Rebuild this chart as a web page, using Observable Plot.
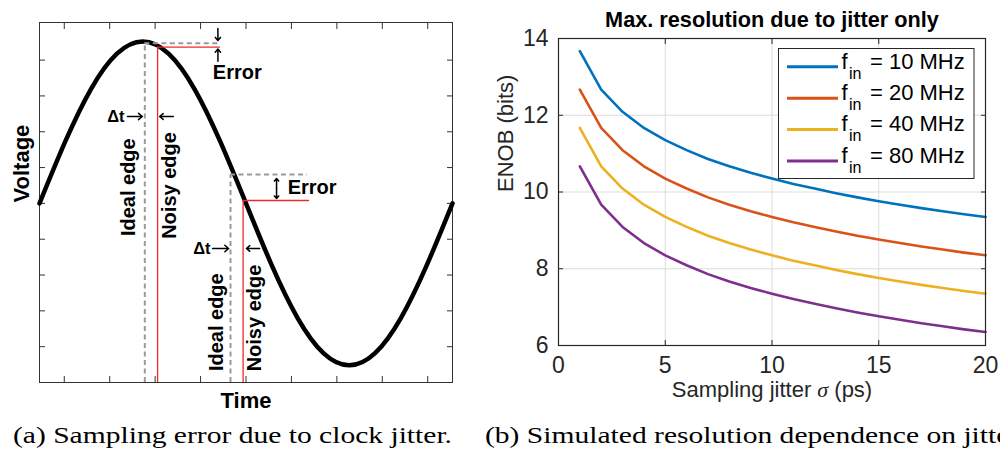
<!DOCTYPE html>
<html>
<head>
<meta charset="utf-8">
<script src="https://cdn.jsdelivr.net/npm/d3@7"></script>
<script src="https://cdn.jsdelivr.net/npm/@observablehq/plot@0.6"></script>
<style>
  body { margin: 0; background: #fff; }
  #wrap { position: relative; width: 1000px; height: 451px; overflow: hidden; background: #fff; }
  #wrap > svg { position: absolute; }
</style>
</head>
<body>
<div id="wrap"></div>
<script>
// ================= Panel (a): schematic =================
// one period of the input sine (t = fraction of period, v = voltage in tick units)
const sineT = [0, 0.0625, 0.125, 0.1875, 0.25, 0.3125, 0.375, 0.4375, 0.5, 0.5625, 0.625, 0.6875, 0.75, 0.8125, 0.875, 0.9375, 1];
const sineV = [0, 1.73, 3.20, 4.18, 4.52, 4.18, 3.20, 1.73, 0, -1.73, -3.20, -4.18, -4.52, -4.18, -3.20, -1.73, 0];
const timeTicks = [0.06, 0.17, 0.28, 0.39, 0.50, 0.61, 0.72, 0.83, 0.94];
const voltTicks = [-4, -3, -2, -1, 0, 1, 2, 3, 4];
// sampling edges: t of edge, sampled voltage, end of the horizontal level line
const idealEdges = [{t: 0.255, v: 4.47, tEnd: 0.438}, {t: 0.4625, v: 0.807, tEnd: 0.649}];
const noisyEdges = [{t: 0.286, v: 4.36, tEnd: 0.438}, {t: 0.493, v: 0.081, tEnd: 0.654}];
const dtArrows = [
  {t1: 0.213, t2: 0.249, v: 2.426}, {t1: 0.324, t2: 0.291, v: 2.426},
  {t1: 0.419, t2: 0.458, v: -1.259}, {t1: 0.533, t2: 0.501, v: -1.259}
];
const errArrows = [
  {t: 0.432, v1: 4.883, v2: 4.548}, {t: 0.432, v1: 3.965, v2: 4.31},
  {t: 0.574, v1: 0.416, v2: 0.695}, {t: 0.574, v1: 0.416, v2: 0.137}
];
const edgeLabels = [
  {t: 0.216, v: 0.452, label: "Ideal edge"},
  {t: 0.315, v: 0.50, label: "Noisy edge"},
  {t: 0.430, v: -3.317, label: "Ideal edge"},
  {t: 0.5206, v: -3.2, label: "Noisy edge"}
];
const errLabels = [{t: 0.479, v: 3.64, label: "Error"}, {t: 0.660, v: 0.444, label: "Error"}];
const dtLabels = [{t: 0.185, v: 2.426, label: "Δt"}, {t: 0.393, v: -1.259, label: "Δt"}];

// ================= Panel (b): ENOB vs jitter =================
const jitterPs = [1,2,3,4,5,6,7,8,9,10,11,12,13,14,15,16,17,18,19,20];
const freqsMHz = [10, 20, 40, 80];
const enob10 = [13.67,12.67,12.09,11.67,11.35,11.09,10.86,10.67,10.50,10.35,10.21,10.09,9.97,9.86,9.76,9.67,9.58,9.50,9.42,9.35];
const enob20 = [12.67,11.67,11.09,10.67,10.35,10.09,9.86,9.67,9.50,9.35,9.21,9.09,8.97,8.86,8.76,8.67,8.58,8.50,8.42,8.35];
const enob40 = [11.67,10.67,10.09,9.67,9.35,9.09,8.86,8.67,8.50,8.35,8.21,8.09,7.97,7.86,7.76,7.67,7.58,7.50,7.42,7.35];
const enob80 = [10.67,9.67,9.09,8.67,8.35,8.09,7.86,7.67,7.50,7.35,7.21,7.09,6.97,6.86,6.76,6.67,6.58,6.50,6.42,6.35];
const seriesColors = ["#0072BD", "#D95319", "#EDB120", "#7E2F8E"];
const xTicksB = [0, 5, 10, 15, 20];
const yTicksB = [6, 8, 10, 12, 14];
const titleB = "Max. resolution due to jitter only";
const xLabelB = "Sampling jitter σ (ps)";
const yLabelB = "ENOB (bits)";
const captionA = "(a) Sampling error due to clock jitter.";
const captionB = "(b) Simulated resolution dependence on jitter.";

const SANS = "'Liberation Sans', Arial, Helvetica, sans-serif";
const wrap = document.getElementById("wrap");

// ---------- left plot ----------
const sineRows = sineT.map((t, i) => ({t, v: sineV[i]}));
const blank = () => "";
const left = Plot.plot({
  width: 480, height: 420,
  marginLeft: 39, marginRight: 28, marginTop: 22, marginBottom: 38,
  x: {domain: [0, 1]},
  y: {domain: [-5, 5.05]},
  style: {fontFamily: SANS, background: "transparent", overflow: "visible", color: "#000"},
  marks: [
    Plot.frame({stroke: "#333", strokeWidth: 1}),
    Plot.axisX({anchor: "bottom", ticks: timeTicks, tickSize: -6, tickFormat: blank, label: null, stroke: "#333"}),
    Plot.axisX({anchor: "top", ticks: timeTicks, tickSize: -6, tickFormat: blank, label: null, stroke: "#333"}),
    Plot.axisY({anchor: "left", ticks: voltTicks, tickSize: -6, tickFormat: blank, label: null, stroke: "#333"}),
    Plot.axisY({anchor: "right", ticks: voltTicks, tickSize: -6, tickFormat: blank, label: null, stroke: "#333"}),
    Plot.line(sineRows, {x: "t", y: "v", curve: "natural", stroke: "#000", strokeWidth: 4.5}),
    Plot.ruleX(idealEdges, {x: "t", y1: -5, y2: "v", stroke: "#9a9a9a", strokeWidth: 2, strokeDasharray: "5,3.5"}),
    Plot.ruleY(idealEdges, {y: "v", x1: "t", x2: "tEnd", stroke: "#9a9a9a", strokeWidth: 2, strokeDasharray: "5,3.5"}),
    Plot.ruleX(noisyEdges, {x: "t", y1: -5, y2: "v", stroke: "#ee2a2a", strokeWidth: 1.3}),
    Plot.ruleY(noisyEdges, {y: "v", x1: "t", x2: "tEnd", stroke: "#ee2a2a", strokeWidth: 1.3}),
    Plot.arrow(dtArrows, {x1: "t1", x2: "t2", y1: "v", y2: "v", stroke: "#000", strokeWidth: 1.5, headLength: 5, headAngle: 80}),
    Plot.arrow(errArrows, {x1: "t", x2: "t", y1: "v1", y2: "v2", stroke: "#000", strokeWidth: 1.5, headLength: 5, headAngle: 80}),
    Plot.text(edgeLabels, {x: "t", y: "v", text: "label", rotate: -90, fontSize: 20, fontWeight: "bold", lineAnchor: "middle"}),
    Plot.text(errLabels, {x: "t", y: "v", text: "label", fontSize: 20, fontWeight: "bold", lineAnchor: "middle"}),
    Plot.text(dtLabels, {x: "t", y: "v", text: "label", fontSize: 16.5, fontWeight: "bold", lineAnchor: "middle"}),
    Plot.text(["Voltage"], {text: d => d, frameAnchor: "left", dx: -18, rotate: -90, fontSize: 22, fontWeight: "bold", lineAnchor: "middle"}),
    Plot.text(["Time"], {text: d => d, frameAnchor: "bottom", dy: 18, fontSize: 22, fontWeight: "bold", lineAnchor: "middle"})
  ]
});
left.style.left = "0px"; left.style.top = "0px";
wrap.appendChild(left);

// ---------- right plot ----------
const enobSeries = [enob10, enob20, enob40, enob80];
const seriesNames = freqsMHz.map(f => `f_in = ${f} MHz`);
const rows = [];
enobSeries.forEach((vals, s) => vals.forEach((e, i) => rows.push({sigma: jitterPs[i], enob: e, series: seriesNames[s]})));

const right = Plot.plot({
  width: 500, height: 420,
  marginLeft: 58, marginRight: 15, marginTop: 38, marginBottom: 75,
  x: {domain: [0, 20]},
  y: {domain: [6, 14]},
  color: {domain: seriesNames, range: seriesColors},
  style: {fontFamily: SANS, background: "transparent", overflow: "visible", color: "#262626"},
  marks: [
    Plot.gridX(xTicksB, {stroke: "#dcdcdc", strokeOpacity: 1, strokeWidth: 1}),
    Plot.gridY(yTicksB, {stroke: "#dcdcdc", strokeOpacity: 1, strokeWidth: 1}),
    Plot.line(rows, {x: "sigma", y: "enob", z: "series", stroke: "series", strokeWidth: 2.6}),
    Plot.frame({stroke: "#262626", strokeWidth: 1.2}),
    Plot.axisX({anchor: "bottom", ticks: xTicksB, tickSize: -5, tickFormat: blank, label: null}),
    Plot.axisX({anchor: "top", ticks: xTicksB, tickSize: -5, tickFormat: blank, label: null}),
    Plot.axisY({anchor: "left", ticks: yTicksB, tickSize: -5, tickFormat: blank, label: null}),
    Plot.axisY({anchor: "right", ticks: yTicksB, tickSize: -5, tickFormat: blank, label: null}),
    Plot.axisX({anchor: "bottom", ticks: xTicksB, tickSize: 0, tickPadding: 11, fontSize: 23, label: null, fill: "#262626"}),
    Plot.axisY({anchor: "left", ticks: yTicksB, tickSize: 0, tickPadding: 10, fontSize: 23, label: null, fill: "#262626"}),
    Plot.text([titleB], {text: d => d, frameAnchor: "top", dy: -18, fontSize: 21.7, fontWeight: "bold", fill: "#000", lineAnchor: "middle"}),
    Plot.text([xLabelB], {text: d => d, frameAnchor: "bottom", dy: 44, fontSize: 22, fill: "#262626", lineAnchor: "middle"}),
    Plot.text([yLabelB], {text: d => d, frameAnchor: "left", dx: -53, rotate: -90, fontSize: 22, fill: "#262626", lineAnchor: "middle"})
  ]
});
right.style.left = "500px"; right.style.top = "0px";
wrap.appendChild(right);

// italic serif sigma in the x label
right.querySelectorAll("text").forEach(el => {
  if (el.textContent === xLabelB) {
    const [a, b] = xLabelB.split("σ");
    el.textContent = "";
    const ns = "http://www.w3.org/2000/svg";
    const t1 = document.createElementNS(ns, "tspan"); t1.textContent = a;
    const t2 = document.createElementNS(ns, "tspan"); t2.textContent = "σ";
    t2.setAttribute("font-family", "'Liberation Serif', 'DejaVu Serif', serif");
    t2.setAttribute("font-style", "italic");
    const t3 = document.createElementNS(ns, "tspan"); t3.textContent = b;
    el.append(t1, t2, t3);
  }
});

// ---------- legend of panel (b) ----------
const leg = d3.create("svg").attr("width", 1000).attr("height", 451)
  .style("left", "0px").style("top", "0px").style("font-family", SANS);
leg.append("rect").attr("x", 778.5).attr("y", 48.5).attr("width", 195.5).attr("height", 130)
  .attr("fill", "#fff").attr("stroke", "#262626").attr("stroke-width", 1);
freqsMHz.forEach((f, i) => {
  const y0 = 66.7 + i * 31.45;
  leg.append("line").attr("x1", 787).attr("x2", 838).attr("y1", y0).attr("y2", y0)
    .attr("stroke", seriesColors[i]).attr("stroke-width", 3);
  leg.append("text").attr("x", 841.5).attr("y", y0 + 1.8).attr("font-size", 22).attr("fill", "#000").text("f");
  leg.append("text").attr("x", 849).attr("y", y0 + 11.8).attr("font-size", 16).attr("fill", "#000").text("in");
  leg.append("text").attr("x", 870).attr("y", y0 + 1.8).attr("font-size", 22).attr("fill", "#000").text(`= ${f} MHz`);
});
wrap.appendChild(leg.node());

// ---------- captions ----------
const cap = d3.create("svg").attr("width", 1000).attr("height", 451)
  .style("left", "0px").style("top", "0px")
  .style("font-family", "'Liberation Serif', 'DejaVu Serif', serif");
const capSize = 22.5;
const ca = cap.append("text").attr("x", 13).attr("y", 443).attr("font-size", capSize).attr("fill", "#000").text(captionA);
const cb = cap.append("text").attr("x", 485).attr("y", 443).attr("font-size", capSize).attr("fill", "#000").text(captionB);
wrap.appendChild(cap.node());
const stretch = 439 / ca.node().getComputedTextLength();
const natB = cb.node().getComputedTextLength();
ca.attr("textLength", 439).attr("lengthAdjust", "spacingAndGlyphs");
cb.attr("textLength", natB * stretch).attr("lengthAdjust", "spacingAndGlyphs");
</script>
</body>
</html>
